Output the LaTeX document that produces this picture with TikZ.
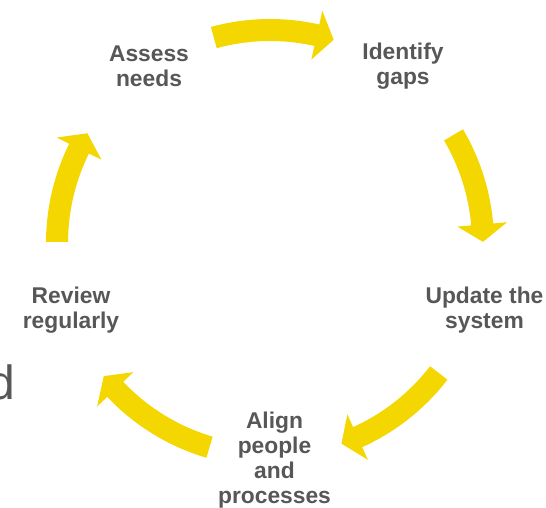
\documentclass[tikz,border=0pt]{standalone}
\usepackage{fontspec}
\setmainfont{Liberation Sans}
\usetikzlibrary{positioning}
\definecolor{cycyellow}{HTML}{F4D700}
\definecolor{labelgrey}{HTML}{575757}
% one curved arrow of the cycle: #1 start angle, #2 tip angle
\newcommand\cycarrow[2]{%
\fill[cycyellow] (#1:\Ro) arc[start angle=#1, end angle=#2+\headA, radius=\Ro]
  -- (#2+\headA:\Rh) -- (#2:\R) -- (#2+\headA:\Rl) -- (#2+\headA:\Ri)
  arc[start angle=#2+\headA, end angle=#1, radius=\Ri] -- cycle;
}

\begin{document}
\begin{tikzpicture}[x=1pt,y=1pt,
  every node/.style={inner sep=0pt,text=labelgrey},
  steplabel/.style={align=center,font=\fontsize{22.8}{24.8}\selectfont\bfseries}]
	%% some definitions
	\def\R{213} % circle radius
	\def\Ro{224} % outer edge
	\def\Ri{202} % inner edge
	\def\Rh{238} % head, outer wing
	\def\Rl{188} % head, inner wing
	\def\headA{4.7} % head length (deg)

	\useasboundingbox (0,0) rectangle (546,508);

	\begin{scope}[shift={(270,265)}]
	\cycarrow{105.3}{72.6}
	\cycarrow{30.5}{0.3}
	\cycarrow{-37.6}{-70.4}
	\cycarrow{-106.5}{-141.3}
	\cycarrow{179.7}{149}
	\end{scope}

	\node[steplabel] (assess) at (149,442) {Assess\\needs};
	\node[steplabel] (identify) at (403,442) {Identify\\gaps};
	\node[steplabel] (update) at (484.5,198) {Update the\\system};
	\node[steplabel] (align) at (274.5,48) {Align\\people\\and\\processes};
	\node[steplabel] (review) at (71,198) {Review\\regularly};

	% cut-off word at the left edge
	\node[anchor=base east,font=\fontsize{48}{55}\selectfont] (cutword) at (15,108) {d};
\end{tikzpicture}
\end{document}
